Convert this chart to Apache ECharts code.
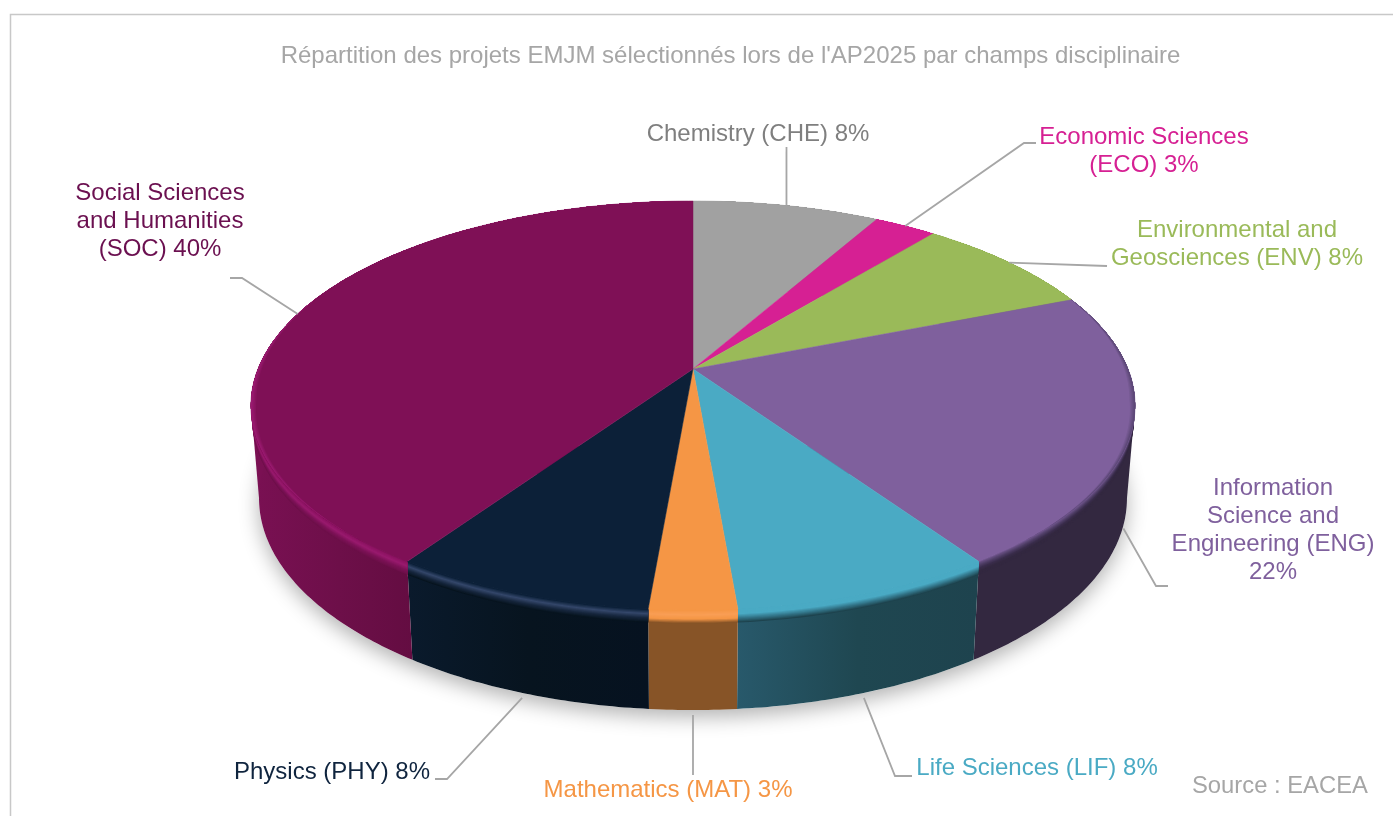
<!DOCTYPE html>
<html>
<head>
<meta charset="utf-8">
<title>Répartition des projets EMJM</title>
<script src="https://cdn.jsdelivr.net/npm/echarts@6/dist/echarts.min.js"></script>
<style>
  html, body { margin: 0; padding: 0; background: #fff; }
  #chart { width: 1393px; height: 816px; }
</style>
</head>
<body>
<div id="chart"></div>
<script>
// project counts, clockwise from 12 o'clock
const names = ['CHE', 'ECO', 'ENV', 'ENG', 'LIF', 'MAT', 'PHY', 'SOC']
const counts = [3, 1, 3, 8, 3, 1, 3, 15]
const labels = [
  'Chemistry (CHE) 8%',
  'Economic Sciences\n(ECO) 3%',
  'Environmental and\nGeosciences (ENV) 8%',
  'Information\nScience and\nEngineering (ENG)\n22%',
  'Life Sciences (LIF) 8%',
  'Mathematics (MAT) 3%',
  'Physics (PHY) 8%',
  'Social Sciences\nand Humanities\n(SOC) 40%',
]

const titleText = "Répartition des projets EMJM sélectionnés lors de l'AP2025 par champs disciplinaire"
const sourceText = 'Source : EACEA'

// styles
const faceColors = ['#a1a1a1', '#d62093', '#9aba59', '#7f609d', '#4aaac4', '#f59645', '#0c2038', '#7f1056']
const labelColors = ['#7f7f7f', '#d62093', '#9aba59', '#7f609d', '#4aaac4', '#f59645', '#0f243e', '#6b1050']
const wallStops = [
  ['#777777', '#777777'],
  ['#8a1560', '#8a1560'],
  ['#657a3a', '#657a3a'],
  ['#332840', '#332840'],
  ['#28596b', '#1f4751', '#1e434e'],
  ['#875427', '#875427'],
  ['#0a1a2c', '#07141f', '#061220'],
  ['#7a1053', '#6d0f49', '#620c40', '#620c40', '#620c40', '#620c40'],
]
const bevelRamps = [
  ['#a1a1a1', '#777777'],
  ['#d62093', '#8a1560'],
  ['#9aba59', '#657a3a'],
  ['#6b5287', '#4f3e66', '#3a2d4c', '#332840', '#332840'],
  ['#4aaac4', '#4aaac4', '#33768a', '#1e434e'],
  ['#f59645', '#f99e55', '#f59645', '#875427'],
  ['#0c2038', '#34476a', '#17273e', '#07141f'],
  ['#8a1260', '#991a6e', '#7d1257', '#6d0f49'],
]
// soft edge on the top face where the disc turns away at the sides
const rimTints = [null, null, null, '#5c4876', null, null, null, '#9a1a70']

// top face and bottom rim of the disc, as perspective ellipses
const topRim = { cx: 693, cy: 369, a: 435, b: 198, k: 0.1785 }
const bottomRim = { cx: 693, cy: 460.5, a: 427, b: 205, k: 0.1785 }

// leader lines: which rim they leave from, then bend and end points
const leaderFromWall = [false, false, false, true, true, true, true, false]
const leaderBends = [
  [[786.5, 147]],
  [[1024, 143], [1036, 143]],
  [[1107, 266]],
  [[1156, 586], [1168, 586]],
  [[895, 776], [912, 776]],
  [[693, 775]],
  [[447, 779], [435, 779]],
  [[242, 278], [230, 278]],
]
const labelCenters = [
  [758, 134], [1144, 151], [1237, 244.5], [1273, 530],
  [1037, 768], [668, 790], [332, 772], [160, 221.5],
]

const total = counts.reduce((s, v) => s + v, 0)
const startShares = []
counts.reduce((s, v, i) => { startShares[i] = s; return s + v }, 0)

const toAngle = (share) => (share / total) * Math.PI * 2

const project = (rim, angle, r = 1) => {
  const x = r * Math.sin(angle)
  const y = r * Math.cos(angle)
  const w = 1 + rim.k * y
  return [rim.cx + (rim.a * x) / w, rim.cy - (rim.b * y) / w]
}

const rimPoint = (angle, t) => {
  const p = project(topRim, angle)
  const q = project(bottomRim, angle)
  return [p[0] + (q[0] - p[0]) * t, p[1] + (q[1] - p[1]) * t]
}

const sliceAngles = (i) => {
  const a0 = toAngle(startShares[i])
  const a1 = toAngle(startShares[i] + counts[i])
  const steps = Math.max(6, Math.ceil((a1 - a0) / 0.012))
  const list = []
  for (let s = 0; s <= steps; s++) list.push(a0 + ((a1 - a0) * s) / steps)
  return list
}

const arc = (i, t, reverse) => {
  const pts = sliceAngles(i).map((a) => rimPoint(a, t))
  return reverse ? pts.reverse() : pts
}

const strip = (i, t0, t1) => arc(i, t0, false).concat(arc(i, t1, true))

// the side silhouette runs from widest point to widest point of the two rims
const sideAngle = Math.acos(-topRim.k)
const sideAngles = [sideAngle, Math.PI * 2 - sideAngle]

const renderShadow = () => {
  const pts = []
  for (let s = 0; s < 360; s++) pts.push(rimPoint((s * Math.PI) / 180, 1))
  return {
    type: 'polygon',
    shape: { points: pts },
    style: {
      fill: '#fff',
      shadowBlur: 20,
      shadowOffsetY: 7,
      shadowColor: 'rgba(0, 0, 0, 0.3)',
    },
  }
}

const renderWall = (params) => {
  const i = params.dataIndex
  const stops = wallStops[i].map((color, n, list) => ({ offset: n / (list.length - 1), color }))
  const children = []
  const a0 = toAngle(startShares[i])
  const a1 = toAngle(startShares[i] + counts[i])
  sideAngles.forEach((a) => {
    if (a < a0 || a > a1) return
    children.push({
      type: 'polygon',
      shape: { points: [rimPoint(a, 0), rimPoint(a, 1), [bottomRim.cx, bottomRim.cy]] },
      style: { fill: wallStops[i][0] },
    })
  })
  children.push({
    type: 'polygon',
    shape: { points: strip(i, 0, 1) },
    style: { fill: new echarts.graphic.LinearGradient(0, 0, 1, 0, stops) },
  })
  const ramp = bevelRamps[i]
  const n = 13
  for (let s = n; s >= 1; s--) {
    children.push({
      type: 'polygon',
      shape: { points: strip(i, 0, s * 0.0105) },
      style: { fill: echarts.color.lerp((s - 1) / (n - 1), ramp) },
    })
  }
  return { type: 'group', children }
}

const renderFace = (params) => {
  const i = params.dataIndex
  const pts = [[topRim.cx, topRim.cy]].concat(arc(i, 0, false))
  const children = [{
    type: 'polygon',
    shape: { points: pts },
    style: { fill: faceColors[i], stroke: faceColors[i], lineWidth: 0.5 },
  }]
  if (rimTints[i]) {
    const angles = sliceAngles(i)
    // ring swells at the side of the disc and thins away towards back and front
    const bump = (a) => {
      const c = Math.cos(a)
      return c > -0.15
        ? Math.max(0, 1 - (c + 0.15) / 0.55)
        : Math.max(0, 1 - (-0.15 - c) / 0.6)
    }
    const outer = angles.map((a) => project(topRim, a))
    for (let n = 0; n < 4; n++) {
      const width = 0.012 * (1 - n / 4)
      const inner = angles.map((a) => project(topRim, a, 1 - width * bump(a)))
      children.push({
        type: 'polygon',
        shape: { points: outer.concat(inner.reverse()) },
        style: { fill: echarts.color.lerp((n + 1) / 4, [faceColors[i], rimTints[i]]) },
      })
    }
  }
  return { type: 'group', children }
}

const renderLabel = (params) => {
  const i = params.dataIndex
  const mid = toAngle(startShares[i] + counts[i] / 2)
  const start = leaderFromWall[i] ? rimPoint(mid, 1.05) : rimPoint(mid, 0)
  return {
    type: 'group',
    children: [
      {
        type: 'polyline',
        shape: { points: [start].concat(leaderBends[i]) },
        style: { stroke: '#a6a6a6', lineWidth: 1.8, fill: null },
      },
      {
        type: 'text',
        x: labelCenters[i][0],
        y: labelCenters[i][1],
        style: {
          text: labels[i],
          fill: labelColors[i],
          font: '24px "Liberation Sans", Arial, sans-serif',
          lineHeight: 28,
          align: 'center',
          verticalAlign: 'middle',
        },
      },
    ],
  }
}

const buildOption = () => {
  const data = counts.map((value, i) => ({ name: names[i], value }))
  const base = { type: 'custom', coordinateSystem: 'none', silent: true, animation: false, clip: false }
  return {
    backgroundColor: '#fff',
    animation: false,
    title: [
      {
        text: titleText,
        left: 725.5,
        top: 39,
        textAlign: 'center',
        textStyle: { color: '#a6a6a6', fontSize: 24, fontWeight: 'normal', fontFamily: '"Liberation Sans", Arial, sans-serif' },
      },
      {
        text: sourceText,
        left: 1187,
        top: 769,
        textStyle: { color: '#a6a6a6', fontSize: 23.8, fontWeight: 'normal', fontFamily: '"Liberation Sans", Arial, sans-serif' },
      },
    ],
    graphic: [{
      type: 'rect',
      silent: true,
      shape: { x: 10.5, y: 14.5, width: 1500, height: 1000 },
      style: { fill: 'none', stroke: '#c8c8c8', lineWidth: 1.5 },
      z: -1,
    }],
    series: [
      { ...base, name: 'shadow', data: [0], renderItem: renderShadow, z: 1 },
      { ...base, name: 'walls', data, renderItem: renderWall, z: 2 },
      { ...base, name: 'faces', data, renderItem: renderFace, z: 3 },
      { ...base, name: 'labels', data, renderItem: renderLabel, z: 4 },
    ],
  }
}

const chart = echarts.init(document.getElementById('chart'))
chart.setOption(buildOption())
</script>
</body>
</html>
